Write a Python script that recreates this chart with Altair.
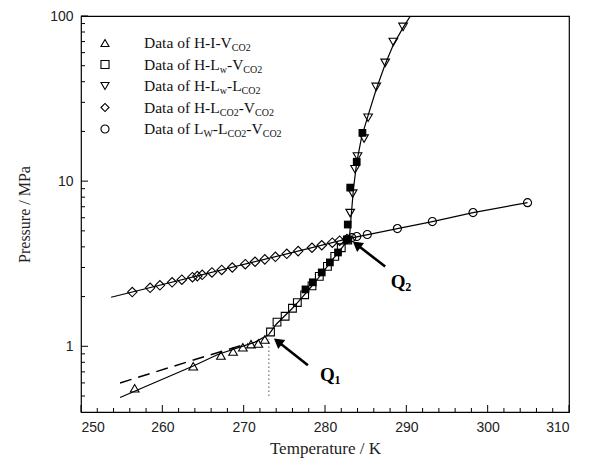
import altair as alt
import pandas as pd

# ---------------- data ----------------
# H-I-V (open up-triangles)
hiv_T = [256.6, 263.8, 267.2, 268.7, 269.9, 270.9, 271.8, 272.6]
hiv_P = [0.557, 0.757, 0.88, 0.93, 0.986, 1.03, 1.04, 1.10]
# H-Lw-V (open squares)
hlwv_T = [273.3, 274.1, 275.1, 276.0, 276.6, 277.5, 278.4, 279.3, 280.3, 281.2, 282.0, 282.8]
hlwv_P = [1.22, 1.40, 1.52, 1.70, 1.84, 2.05, 2.32, 2.65, 3.05, 3.50, 3.95, 4.40]
# filled squares (other data set)
fill_T = [277.6, 278.5, 279.6, 280.6, 281.6, 282.7, 282.8, 283.1, 283.9, 284.6]
fill_P = [2.21, 2.44, 2.80, 3.22, 3.70, 4.43, 5.46, 9.14, 13.1, 19.6]
# H-Lw-LCO2 (open down-triangles)
hlwl_T = [283.1, 283.4, 283.7, 284.0, 284.8, 285.3, 286.3, 287.4, 288.4, 289.6]
hlwl_P = [6.4, 8.4, 11.8, 14.1, 18.1, 24.2, 37.2, 52.0, 69.6, 85.9]
# H-LCO2-VCO2 (open diamonds)
hlv_T = [256.3, 258.5, 259.7, 261.2, 262.4, 263.7, 264.3, 264.9, 266.1, 267.3, 268.6,
         270.2, 271.4, 272.6, 273.9, 275.3, 276.7, 278.4, 279.6, 280.9, 281.8, 282.7]
hlv_P = [2.13, 2.26, 2.34, 2.44, 2.53, 2.62, 2.66, 2.71, 2.80, 2.90, 3.00,
         3.14, 3.25, 3.36, 3.48, 3.63, 3.77, 3.95, 4.09, 4.24, 4.36, 4.46]
# Lw-LCO2-VCO2 (open circles)
llv_T = [283.3, 283.9, 285.2, 288.9, 293.2, 298.2, 304.9]
llv_P = [4.55, 4.62, 4.75, 5.16, 5.69, 6.45, 7.41]

# fitted / drawn curves
c_hiv_T = [254.8, 263.8, 266.9, 271.4, 273.1]
c_hiv_P = [0.49, 0.76, 0.895, 1.06, 1.18]
c_dash_T = [254.8, 265.3, 270.5]
c_dash_P = [0.60, 0.87, 1.04]
c_hlwv_T = [273.1, 274.0, 275.0, 276.0, 277.0, 278.0, 279.0, 280.0, 281.0, 282.0, 283.0]
c_hlwv_P = [1.18, 1.36, 1.52, 1.70, 1.93, 2.20, 2.52, 2.92, 3.38, 3.90, 4.50]
c_hlwl_T = [283.0, 283.2, 283.5, 283.9, 284.5, 285.3, 286.3, 287.4, 288.4, 289.6, 290.5]
c_hlwl_P = [4.50, 6.0, 9.0, 13.0, 18.5, 25.0, 36.0, 51.0, 67.0, 85.0, 100.0]
c_hlv_T = [253.7, 283.0]
c_hlv_P = [1.98, 4.50]
c_llv_T = [283.0, 288.9, 293.2, 298.2, 304.9]
c_llv_P = [4.50, 5.16, 5.69, 6.45, 7.41]
c_ice_T = [273.1, 273.1]
c_ice_P = [0.50, 1.10]

# annotations
q_text = ["Q", "Q"]
q_sub = ["1", "2"]
q_T = [280.3, 289.0]
q_P = [0.67, 2.45]
arrow1_T = [277.9, 274.2]
arrow1_P = [0.768, 1.07]
arrow2_T = [287.4, 283.9]
arrow2_P = [3.04, 4.13]

x_ticks_major = [250, 260, 270, 280, 290, 300, 310]
x_ticks_minor = [252, 254, 256, 258, 262, 264, 266, 268, 272, 274, 276, 278,
                 282, 284, 286, 288, 292, 294, 296, 298, 302, 304, 306, 308]
y_ticks_major = [1, 10, 100]
y_ticks_minor = [0.5, 0.6, 0.7, 0.8, 0.9, 2, 3, 4, 5, 6, 7, 8, 9,
                 20, 30, 40, 50, 60, 70, 80, 90]

legend_shapes = ["triangle-up", "square", "triangle-down", "diamond", "circle"]
legend_labels = [
    [("Data of H-I-V", 0), ("CO2", 1)],
    [("Data of H-L", 0), ("w", 1), ("-V", 0), ("CO2", 1)],
    [("Data of H-L", 0), ("w", 1), ("-L", 0), ("CO2", 1)],
    [("Data of H-L", 0), ("CO2", 1), ("-V", 0), ("CO2", 1)],
    [("Data of L", 0), ("W", 1), ("-L", 0), ("CO2", 1), ("-V", 0), ("CO2", 1)],
]

# ---------------- chart ----------------
W, H = 488, 396
SERIF = "Liberation Serif"
SANS = "Liberation Sans"

xs = alt.Scale(domain=[250, 310], nice=False, zero=False)
ys = alt.Scale(type="log", domain=[0.4, 100], nice=False)

xaxis = alt.Axis(values=x_ticks_major, format="d", ticks=False, domain=False, grid=False,
                 labelFont=SANS, labelFontSize=14, labelColor="#222", labelPadding=8,
                 title="Temperature / K", titleFont=SERIF, titleFontSize=17,
                 titleFontWeight="normal", titleColor="#222", titleY=36,
                 titleBaseline="middle")
yaxis = alt.Axis(values=y_ticks_major, format="~g", ticks=False, domain=False, grid=False,
                 labelFont=SANS, labelFontSize=14, labelColor="#222", labelPadding=8,
                 title="Pressure / MPa", titleFont=SERIF, titleFontSize=16,
                 titleFontWeight="normal", titleColor="#222", titleX=-57, titleY=H / 2,
                 titleAngle=270, titleAlign="center", titleBaseline="middle")


def X():
    return alt.X("T:Q", scale=xs, axis=xaxis)


def Y():
    return alt.Y("P:Q", scale=ys, axis=yaxis)


def df(T, P):
    return pd.DataFrame({"T": T, "P": P})


def pts(T, P, shape, filled=False, size=55):
    return alt.Chart(df(T, P)).mark_point(
        shape=shape, filled=filled, size=size, color="black",
        strokeWidth=1.1, opacity=1, clip=True
    ).encode(x=X(), y=Y())


def line(T, P, width=1.2, dash=None, color="black"):
    kw = dict(color=color, strokeWidth=width, clip=True)
    if dash:
        kw["strokeDash"] = dash
    return alt.Chart(df(T, P)).mark_line(**kw).encode(
        x=X(), y=Y(), order=alt.Order("P:Q"))


layers = []
# curves
layers.append(line(c_hiv_T, c_hiv_P))
layers.append(line(c_dash_T, c_dash_P, width=1.5, dash=[12, 7]))
layers.append(line(c_hlwv_T, c_hlwv_P))
layers.append(line(c_hlwl_T, c_hlwl_P))
layers.append(line(c_hlv_T, c_hlv_P))
layers.append(line(c_llv_T, c_llv_P))
layers.append(line(c_ice_T, c_ice_P, width=1, dash=[1.5, 2.5], color="#555"))

# points
layers.append(pts(hiv_T, hiv_P, "triangle-up", size=75))
layers.append(pts(hlwv_T, hlwv_P, "square", size=60))
layers.append(pts(hlwl_T, hlwl_P, "triangle-down", size=75))
layers.append(pts(hlv_T, hlv_P, "diamond", size=90))
layers.append(pts(llv_T, llv_P, "circle", size=65))
layers.append(pts(fill_T, fill_P, "square", filled=True, size=60))

# arrows
for aT, aP in [(arrow1_T, arrow1_P), (arrow2_T, arrow2_P)]:
    layers.append(line(aT, aP, width=2.6))
    layers.append(alt.Chart(df(aT[1:], aP[1:])).mark_point(
        shape="triangle-up", filled=True, color="black", size=130, angle=308, opacity=1
    ).encode(x=X(), y=Y()))

# Q labels
qdf = pd.DataFrame({"T": q_T, "P": q_P, "q": q_text, "s": q_sub})
layers.append(alt.Chart(qdf).mark_text(
    font=SERIF, fontSize=19, fontWeight="bold", color="black", align="center",
    baseline="middle").encode(x=X(), y=Y(), text="q:N"))
layers.append(alt.Chart(qdf).mark_text(
    font=SERIF, fontSize=12, fontWeight="bold", color="black", align="left",
    baseline="middle", dx=7, dy=5).encode(x=X(), y=Y(), text="s:N"))

# inward ticks
tick_x_major = pd.DataFrame({"T": x_ticks_major})
tick_x_minor = pd.DataFrame({"T": x_ticks_minor})
tick_y_major = pd.DataFrame({"P": y_ticks_major})
tick_y_minor = pd.DataFrame({"P": y_ticks_minor})
layers.append(alt.Chart(tick_x_major).mark_rule(color="black", strokeWidth=1).encode(
    x=X(), y=alt.value(H), y2=alt.value(H - 7)))
layers.append(alt.Chart(tick_x_minor).mark_rule(color="black", strokeWidth=1).encode(
    x=X(), y=alt.value(H), y2=alt.value(H - 4)))
layers.append(alt.Chart(tick_y_major).mark_rule(color="black", strokeWidth=1).encode(
    y=Y(), x=alt.value(0), x2=alt.value(7)))
layers.append(alt.Chart(tick_y_minor).mark_rule(color="black", strokeWidth=1).encode(
    y=Y(), x=alt.value(0), x2=alt.value(4)))

# manual legend (with subscripts)
TW = {" ": 250, "D": 722, "a": 444, "t": 278, "o": 500, "f": 333, "H": 722, "-": 333,
      "I": 333, "V": 722, "L": 611, "W": 944, "w": 722, "C": 667, "O": 722, "2": 500}
FS_MAIN, FS_SUB = 15.5, 10
row_y = [27 + 21.5 * i for i in range(5)]
sym_x, text_x = 24, 63
sym_rows, main_rows, sub_rows = [], [], []
for i, segs in enumerate(legend_labels):
    sym_rows.append({"px": sym_x, "py": row_y[i], "shape": legend_shapes[i]})
    cx = text_x
    for s, is_sub in segs:
        fs = FS_SUB if is_sub else FS_MAIN
        rec = {"px": cx, "py": row_y[i] + (5 if is_sub else 0), "txt": s}
        (sub_rows if is_sub else main_rows).append(rec)
        cx += sum(TW[c] for c in s) * fs / 1000.0

layers.append(alt.Chart(pd.DataFrame(sym_rows)).mark_point(
    filled=False, color="black", size=65, strokeWidth=1.1, opacity=1).encode(
    x=alt.X("px:Q", scale=None, axis=None), y=alt.Y("py:Q", scale=None, axis=None),
    shape=alt.Shape("shape:N", scale=None)))
layers.append(alt.Chart(pd.DataFrame(main_rows)).mark_text(
    font=SERIF, fontSize=FS_MAIN, color="#111", align="left", baseline="middle").encode(
    x=alt.X("px:Q", scale=None, axis=None), y=alt.Y("py:Q", scale=None, axis=None),
    text="txt:N"))
layers.append(alt.Chart(pd.DataFrame(sub_rows)).mark_text(
    font=SERIF, fontSize=FS_SUB, color="#111", align="left", baseline="middle").encode(
    x=alt.X("px:Q", scale=None, axis=None), y=alt.Y("py:Q", scale=None, axis=None),
    text="txt:N"))

chart = alt.layer(*layers).properties(
    width=W, height=H,
    autosize=alt.AutoSizeParams(type="none"),
    padding={"left": 73, "top": 8, "right": 16, "bottom": 48},
    background="white",
).configure_view(stroke="black", strokeWidth=1.2)

chart.save("out.html", embed_options={"renderer": "svg", "actions": False})
